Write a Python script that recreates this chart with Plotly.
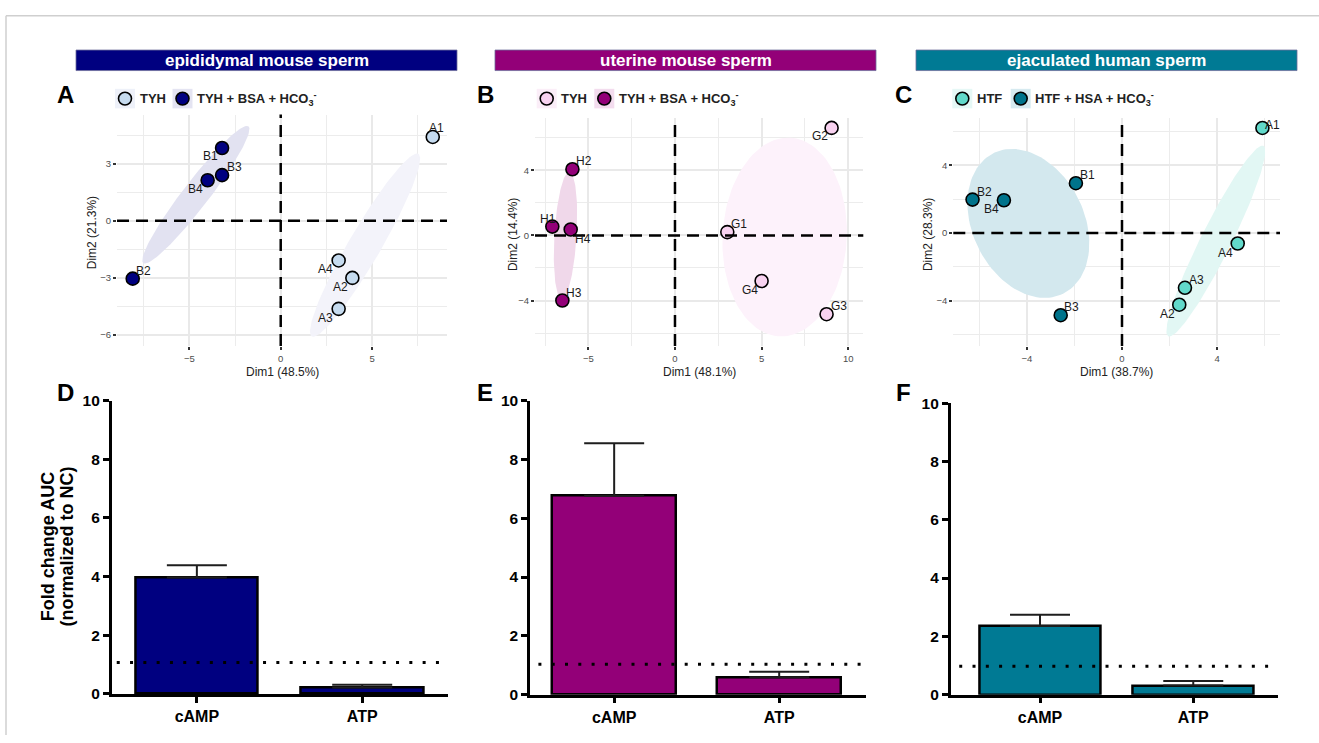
import numpy as np
import plotly.graph_objects as go

# ---------------- data ----------------
# PCA scores, epididymal mouse sperm
epi_tyh_labels = ["A1", "A2", "A3", "A4"]
epi_tyh_x = [8.32, 3.92, 3.17, 3.17]
epi_tyh_y = [4.41, -3.01, -4.64, -2.09]
epi_bsa_labels = ["B1", "B2", "B3", "B4"]
epi_bsa_x = [-3.21, -8.10, -3.21, -4.00]
epi_bsa_y = [3.83, -3.05, 2.40, 2.13]

# PCA scores, uterine mouse sperm
ute_tyh_labels = ["G1", "G2", "G3", "G4"]
ute_tyh_x = [3.02, 9.04, 8.75, 5.00]
ute_tyh_y = [0.20, 6.60, -4.84, -2.80]
ute_bsa_labels = ["H1", "H2", "H3", "H4"]
ute_bsa_x = [-7.08, -5.92, -6.50, -6.02]
ute_bsa_y = [0.54, 4.06, -4.00, 0.36]

# PCA scores, ejaculated human sperm
hum_htf_labels = ["A1", "A2", "A3", "A4"]
hum_htf_x = [5.91, 2.41, 2.65, 4.87]
hum_htf_y = [6.22, -4.24, -3.24, -0.62]
hum_hsa_labels = ["B1", "B2", "B3", "B4"]
hum_hsa_x = [-1.94, -6.29, -2.58, -4.97]
hum_hsa_y = [2.95, 1.98, -4.86, 1.94]

# group ellipses: centre (x, y), end of major semi-axis (x, y), minor/major ratio
epi_ellipses = [(4.615, -1.285, 7.53, 3.52, 0.15), (-4.645, 1.37, -1.77, 4.97, 0.15)]
ute_ellipses = [(6.33, -0.10, 6.64, 6.00, 0.61), (-6.32, 0.00, -6.10, 3.90, 0.17)]
hum_ellipses = [(3.95, -0.475, 5.95, 5.16, 0.14), (-3.94, 0.57, -5.36, 4.76, 0.70)]

# fold change AUC (normalized to NC)
bar_categories = ["cAMP", "ATP"]
epi_fold = [3.97, 0.22]
epi_err = [0.42, 0.09]
ute_fold = [6.76, 0.59]
ute_err = [1.79, 0.19]
hum_fold = [2.35, 0.31]
hum_err = [0.39, 0.16]
nc_level = [1.07, 1.03, 0.97]
bar_ticks = [0, 2, 4, 6, 8, 10]

# ---------------- layout helpers ----------------
W, H = 1319, 743
FONT = "Liberation Sans"


def fx(p):
    return p / W


def fy(p):
    return 1 - p / H


def axis_ids(n):
    s = "" if n == 1 else str(n)
    return f"x{s}", f"y{s}", f"xaxis{s}", f"yaxis{s}"


fig = go.Figure()
shapes = []
annotations = []
layout_axes = {}

NAVY = "#000080"
PLUM = "#930078"
TEAL = "#007a94"

scatter_panels = [
    dict(n=1, letter="A", letter_x=65, dom_x=(117, 447), dom_y=(108, 345),
         xr=(-8.96, 9.10), yr=(-6.6, 5.59), xd=5, yd=3,
         xt="Dim1 (48.5%)", yt="Dim2 (21.3%)", yt_x=92,
         header="epididymal mouse sperm", head_px=(76, 457), head_col=NAVY,
         groups=[
             dict(name="TYH", lab=epi_tyh_labels, x=epi_tyh_x, y=epi_tyh_y, col="#c6dbef",
                  ell=epi_ellipses[0], ell_col="#f3f3fa", key_col="#eef1f9",
                  offs=[(4, -9), (-12, 9), (-13, 9), (-13, 9)]),
             dict(name="TYH + BSA + HCO<sub>3</sub><sup>-</sup>", lab=epi_bsa_labels, x=epi_bsa_x,
                  y=epi_bsa_y, col=NAVY, ell=epi_ellipses[1], ell_col="#e2e2f1", key_col="#e4e4f2",
                  offs=[(-12, 8), (11, -8), (12, -8), (-12, 9)]),
         ],
         legend=[(125, 138), (182.5, 195)]),
    dict(n=2, letter="B", letter_x=485, dom_x=(535, 863.3), dom_y=(111.7, 345),
         xr=(-8.08, 10.87), yr=(-6.8, 7.2), xd=5, yd=4,
         xt="Dim1 (48.1%)", yt="Dim2 (14.4%)", yt_x=513,
         header="uterine mouse sperm", head_px=(495, 876), head_col=PLUM,
         groups=[
             dict(name="TYH", lab=ute_tyh_labels, x=ute_tyh_x, y=ute_tyh_y, col="#f8d2f0",
                  ell=ute_ellipses[0], ell_col="#fdf2fb", key_col="#fbeef8",
                  offs=[(12, -8), (-12, 8), (12, -8), (-12, 9)]),
             dict(name="TYH + BSA + HCO<sub>3</sub><sup>-</sup>", lab=ute_bsa_labels, x=ute_bsa_x,
                  y=ute_bsa_y, col=PLUM, ell=ute_ellipses[1], ell_col="#f0d8ea", key_col="#f3dcee",
                  offs=[(-4, -8), (12, -8), (12, -8), (12, 9)]),
         ],
         legend=[(546.7, 559), (604.3, 616.7)]),
    dict(n=3, letter="C", letter_x=903, dom_x=(953.3, 1280), dom_y=(111.7, 345),
         xr=(-7.1, 6.65), yr=(-6.69, 6.8), xd=4, yd=4,
         xt="Dim1 (38.7%)", yt="Dim2 (28.3%)", yt_x=928,
         header="ejaculated human sperm", head_px=(916, 1297), head_col=TEAL,
         groups=[
             dict(name="HTF", lab=hum_htf_labels, x=hum_htf_x, y=hum_htf_y, col="#62d9ca",
                  ell=hum_ellipses[0], ell_col="#e2f7f4", key_col="#e6f8f6",
                  offs=[(10, -3), (-12, 9), (12, -8), (-12, 9)]),
             dict(name="HTF + HSA + HCO<sub>3</sub><sup>-</sup>", lab=hum_hsa_labels, x=hum_hsa_x,
                  y=hum_hsa_y, col="#00738b", ell=hum_ellipses[1], ell_col="#d3e8ee", key_col="#d6eaf0",
                  offs=[(12, -8), (12, -8), (11, -8), (-12, 9)]),
         ],
         legend=[(962.3, 975), (1020.7, 1033.3)]),
]


def ellipse_xy(params, sx, sy, n=120):
    cx, cy, ex, ey, ratio = params
    ax, ay = (ex - cx) * sx, (ey - cy) * sy
    bx, by = -ay * ratio, ax * ratio
    t = np.linspace(0, 2 * np.pi, n)
    return (cx + (np.cos(t) * ax + np.sin(t) * bx) / sx,
            cy + (np.cos(t) * ay + np.sin(t) * by) / sy)


for p in scatter_panels:
    xa, ya, xkey, ykey = axis_ids(p["n"])
    x0, x1 = p["dom_x"]
    y0, y1 = p["dom_y"]
    sx = (x1 - x0) / (p["xr"][1] - p["xr"][0])
    sy = (y1 - y0) / (p["yr"][1] - p["yr"][0])
    grid = dict(showgrid=True, gridcolor="#e9e9e9", gridwidth=1.7, zeroline=False, showline=False,
                ticks="outside", ticklen=3, tickwidth=2.2, tickcolor="#333333",
                tickfont=dict(family=FONT, size=9.5, color="#4d4d4d"), tickmode="linear", tick0=0)
    layout_axes[xkey] = dict(grid, domain=[fx(x0), fx(x1)], range=list(p["xr"]), anchor=ya,
                             dtick=p["xd"],
                             minor=dict(dtick=p["xd"] / 2, tick0=0, showgrid=True,
                                        gridcolor="#ececec", gridwidth=1.4))
    layout_axes[ykey] = dict(grid, domain=[fy(y1), fy(y0)], range=list(p["yr"]), anchor=xa,
                             dtick=p["yd"],
                             minor=dict(dtick=p["yd"] / 2, tick0=0, showgrid=True,
                                        gridcolor="#ececec", gridwidth=1.4))
    # ellipses underneath the points
    for g in p["groups"]:
        ex, ey = ellipse_xy(g["ell"], sx, sy)
        fig.add_trace(go.Scatter(x=ex, y=ey, xaxis=xa, yaxis=ya, mode="lines", fill="toself",
                                 fillcolor=g["ell_col"], line=dict(width=0), hoverinfo="skip",
                                 showlegend=False))
    # dashed reference lines through the origin
    dash = dict(color="black", width=2.5, dash="12px,7px")
    shapes.append(dict(type="line", xref=xa, yref=f"{ya} domain", x0=0, x1=0, y0=0, y1=1, line=dash))
    shapes.append(dict(type="line", xref=f"{xa} domain", yref=ya, x0=0, x1=1, y0=0, y1=0, line=dash))
    for g in p["groups"]:
        fig.add_trace(go.Scatter(x=g["x"], y=g["y"], xaxis=xa, yaxis=ya, mode="markers",
                                 marker=dict(size=13, color=g["col"], line=dict(color="black", width=1.6)),
                                 showlegend=False, hoverinfo="skip"))
        for lab, px, py, (dx, dy) in zip(g["lab"], g["x"], g["y"], g["offs"]):
            annotations.append(dict(x=px, y=py, xref=xa, yref=ya, text=lab, showarrow=False,
                                    xshift=dx, yshift=-dy,
                                    font=dict(family=FONT, size=12, color="#1a1a1a")))
    # legend row
    for g, (kx, tx) in zip(p["groups"], p["legend"]):
        shapes.append(dict(type="rect", xref="paper", yref="paper", x0=fx(kx - 10), x1=fx(kx + 10),
                           y0=fy(101.7), y1=fy(81.7), fillcolor=g["key_col"], line=dict(width=0)))
        shapes.append(dict(type="circle", xref="paper", yref="paper", x0=fx(kx - 6.5), x1=fx(kx + 6.5),
                           y0=fy(98.2), y1=fy(85.2), fillcolor=g["col"],
                           line=dict(color="black", width=1.6)))
        annotations.append(dict(x=fx(tx), y=fy(91.7), xref="paper", yref="paper", text=g["name"],
                                showarrow=False, xanchor="left", yanchor="middle",
                                font=dict(family=FONT, size=13, color="#222222", weight="bold")))
    # axis titles
    annotations.append(dict(x=fx((x0 + x1) / 2), y=fy(371.7), xref="paper", yref="paper", text=p["xt"],
                            showarrow=False, xanchor="center", yanchor="middle",
                            font=dict(family=FONT, size=12, color="#222222")))
    annotations.append(dict(x=fx(p["yt_x"]), y=fy((y0 + y1) / 2 + 3), xref="paper", yref="paper",
                            text=p["yt"], textangle=-90, showarrow=False, xanchor="center",
                            yanchor="middle", font=dict(family=FONT, size=12, color="#222222")))
    # panel letter and header band
    annotations.append(dict(x=fx(p["letter_x"]), y=fy(88), xref="paper", yref="paper", text=p["letter"],
                            showarrow=False, xanchor="center", yanchor="middle",
                            font=dict(family=FONT, size=24, color="black", weight="bold")))
    hx0, hx1 = p["head_px"]
    shapes.append(dict(type="rect", xref="paper", yref="paper", x0=fx(hx0), x1=fx(hx1), y0=fy(63),
                       y1=fy(42), fillcolor=p["head_col"], line=dict(width=0.8, color="#6d6d9a"),
                       layer="below"))
    annotations.append(dict(x=fx((hx0 + hx1) / 2), y=fy(52.5), xref="paper", yref="paper",
                            text=p["header"], showarrow=False, xanchor="center", yanchor="middle",
                            font=dict(family=FONT, size=17, color="white", weight="bold")))

bar_panels = [
    dict(n=4, letter="D", letter_x=65, dom_x=(111.7, 447.7), dom_y=(400.7, 701), xr=(-0.515, 1.517),
         vals=epi_fold, err=epi_err, col=NAVY, width=0.74, nc=nc_level[0], dot=(0.015, 0.987)),
    dict(n=5, letter="E", letter_x=485, dom_x=(530, 866), dom_y=(400.7, 701.7), xr=(-0.51, 1.526),
         vals=ute_fold, err=ute_err, col=PLUM, width=0.75, nc=nc_level[1], dot=(0.025, 1.0)),
    dict(n=6, letter="F", letter_x=903, dom_x=(950.7, 1278.3), dom_y=(403.3, 701.7), xr=(-0.583, 1.555),
         vals=hum_fold, err=hum_err, col=TEAL, width=0.79, nc=nc_level[2], dot=(0.026, 0.995)),
]

for p in bar_panels:
    xa, ya, xkey, ykey = axis_ids(p["n"])
    x0, x1 = p["dom_x"]
    y0, y1 = p["dom_y"]
    fig.add_trace(go.Bar(x=bar_categories, y=p["vals"], xaxis=xa, yaxis=ya, width=p["width"],
                         marker=dict(color=p["col"], line=dict(color="black", width=2.5)),
                         error_y=dict(type="data", symmetric=False, array=p["err"],
                                      arrayminus=[0] * len(p["err"]), color="#1e1e1e",
                                      thickness=2, width=30),
                         showlegend=False, hoverinfo="skip"))
    common = dict(showline=True, linecolor="black", linewidth=2.5, ticks="outside", ticklen=6,
                  tickwidth=2.5, tickcolor="black", showgrid=False, zeroline=False)
    layout_axes[xkey] = dict(common, domain=[fx(x0), fx(x1)], anchor=ya, type="category",
                             range=list(p["xr"]),
                             tickfont=dict(family=FONT, size=16, color="black", weight="bold"))
    layout_axes[ykey] = dict(common, domain=[fy(y1), fy(y0)], anchor=xa, range=[0, 10],
                             tickvals=bar_ticks,
                             tickfont=dict(family=FONT, size=15.5, color="black", weight="bold"))
    shapes.append(dict(type="line", xref=f"{xa} domain", yref=ya, x0=p["dot"][0], x1=p["dot"][1],
                       y0=p["nc"], y1=p["nc"], line=dict(color="black", width=3, dash="3px,10.3px")))
    annotations.append(dict(x=fx(p["letter_x"]), y=fy(392.5), xref="paper", yref="paper",
                            text=p["letter"], showarrow=False, xanchor="center", yanchor="middle",
                            font=dict(family=FONT, size=24, color="black", weight="bold")))

# y-axis title shared by the bar panels
for txt, xp in [("Fold change AUC", 48.3), ("(normalized to NC)", 66.7)]:
    annotations.append(dict(x=fx(xp), y=fy(550.5), xref="paper", yref="paper", text=txt,
                            textangle=-90, showarrow=False, xanchor="center", yanchor="middle",
                            font=dict(family=FONT, size=18, color="black", weight="bold")))

# thin frame along top and left edges
shapes.append(dict(type="line", xref="paper", yref="paper", x0=fx(6), x1=1, y0=fy(7), y1=fy(7),
                   line=dict(color="#cfcfcf", width=1.5)))
shapes.append(dict(type="line", xref="paper", yref="paper", x0=fx(6), x1=fx(6), y0=fy(7), y1=0,
                   line=dict(color="#cfcfcf", width=1.5)))

fig.update_layout(width=W, height=H, margin=dict(l=0, r=0, t=0, b=0), paper_bgcolor="white",
                  plot_bgcolor="rgba(0,0,0,0)", showlegend=False, shapes=shapes,
                  annotations=annotations, bargap=0, **layout_axes)

fig.write_html("out.html")
